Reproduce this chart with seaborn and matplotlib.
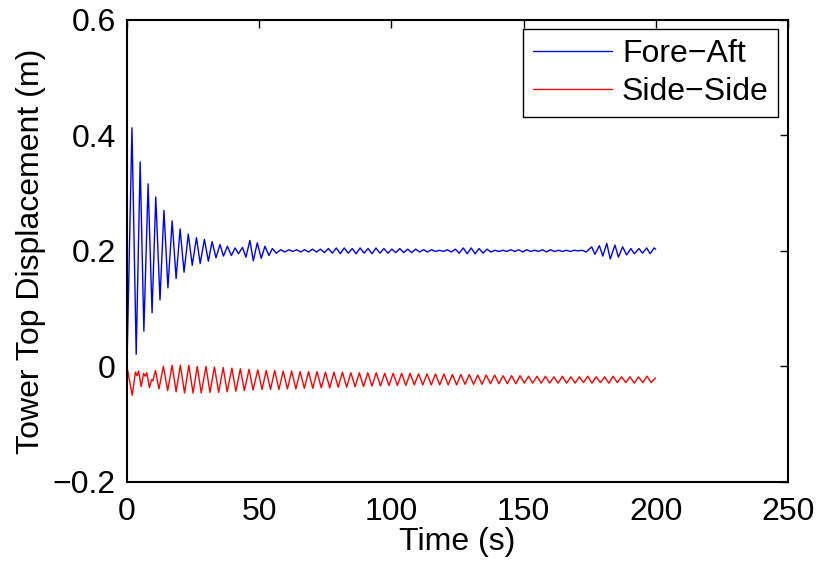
import numpy as np
import pandas as pd
import seaborn as sns
import matplotlib.pyplot as plt

# peak / trough values (time in s, displacement in m)
fa_time = [
    0.0, 1.9, 3.5, 5.0, 6.4, 8.0, 9.5, 10.9, 12.5, 14.0, 15.5, 17.1, 18.6, 20.1,
    21.6, 23.2, 24.7, 26.3, 27.7, 29.3, 30.8, 32.2, 33.7, 35.2, 36.5, 38.0, 39.5,
    40.9, 42.2, 43.7, 45.0, 46.5, 47.8, 49.3, 50.8, 52.2, 53.7, 55.0, 56.5,
    58.2, 59.7, 61.2, 62.7, 64.2, 65.7, 67.2, 68.7, 70.2, 71.7, 73.2, 74.7,
    76.2, 77.7, 79.2, 80.7, 82.2, 83.7, 85.2, 86.7, 88.2, 89.7, 91.2, 92.7,
    94.2, 95.7, 97.2, 98.7, 100.2, 101.7, 103.2, 104.7, 106.2, 107.7, 109.2,
    110.7, 112.2, 113.7, 115.2, 116.7, 118.2, 119.7, 121.2, 122.7, 124.2,
    125.7, 127.2, 128.7, 130.2, 131.7, 133.2, 134.7, 136.2, 137.7, 139.2,
    140.7, 142.2, 143.7, 145.2, 146.7, 148.2, 149.7, 151.2, 152.7, 154.2,
    155.7, 157.2, 158.7, 160.2, 161.7, 163.2, 164.7, 166.2, 167.7, 169.2,
    170.7, 172.2, 173.7, 175.8, 177.0, 178.7, 180.0, 181.5, 182.8, 184.6,
    185.9, 187.5, 189.0, 190.6, 191.9, 193.7, 195.0, 196.6, 197.9, 199.4, 200.0,
]
fa_disp = [
    0.000, 0.413, 0.021, 0.354, 0.061, 0.316, 0.093, 0.293, 0.115, 0.270, 0.136,
    0.252, 0.152, 0.238, 0.163, 0.229, 0.175, 0.223, 0.178, 0.220, 0.182, 0.216,
    0.188, 0.211, 0.191, 0.208, 0.192, 0.205, 0.195, 0.206, 0.189, 0.218, 0.183,
    0.214, 0.187, 0.208, 0.192, 0.204, 0.196,
    0.202, 0.198, 0.202, 0.199, 0.202, 0.198, 0.202, 0.198, 0.203, 0.198, 0.203,
    0.197, 0.204, 0.196, 0.205, 0.195, 0.205, 0.196, 0.204, 0.195, 0.205, 0.196,
    0.204, 0.195, 0.205, 0.196, 0.204, 0.196, 0.203, 0.197, 0.204, 0.197, 0.203,
    0.197, 0.203, 0.198, 0.202, 0.198, 0.202, 0.199, 0.201, 0.199, 0.202, 0.198,
    0.203, 0.196, 0.205, 0.195, 0.205, 0.195, 0.204, 0.196, 0.203, 0.198, 0.201,
    0.199, 0.201, 0.199, 0.202, 0.199, 0.202, 0.198, 0.202, 0.199, 0.201, 0.199,
    0.202, 0.198, 0.202, 0.199, 0.201, 0.199, 0.201, 0.199, 0.201, 0.200, 0.201,
    0.198, 0.207, 0.194, 0.209, 0.191, 0.213, 0.186, 0.210, 0.189, 0.207, 0.193,
    0.204, 0.195, 0.204, 0.196, 0.205, 0.195, 0.205, 0.203,
]

ss_time = [
    0.0, 2.0, 3.2, 3.8, 4.4, 5.4, 6.3, 6.9, 7.5, 8.5, 9.3, 9.8, 10.8, 12.1,
    13.8, 15.4, 17.1, 18.6, 20.2, 21.8, 23.4, 25.0, 26.6, 28.1, 29.9, 31.4,
    33.1, 34.7, 36.4, 37.9, 39.7, 41.2, 42.9, 44.4, 46.2, 47.7,
    49.5, 51.1, 52.7, 54.3, 55.9, 57.5, 59.1, 60.7, 62.3, 63.9, 65.5, 67.1,
    68.7, 70.3, 71.9, 73.5, 75.1, 76.7, 78.3, 79.9, 81.5, 83.1, 84.7, 86.3,
    87.9, 89.5, 91.1, 92.7, 94.3, 95.9, 97.5, 99.1, 100.7, 102.3, 103.9, 105.5,
    107.1, 108.7, 110.3, 111.9, 113.5, 115.1, 116.7, 118.3, 119.9, 121.5,
    123.1, 124.7, 126.3, 127.9, 129.5, 131.1, 132.7, 134.3, 135.9, 137.5,
    139.1, 140.7, 142.3, 143.9, 145.5, 147.1, 148.7, 150.3, 151.9, 153.5,
    155.1, 156.7, 158.3, 159.9, 161.5, 163.1, 164.7, 166.3, 167.9, 169.5,
    171.1, 172.7, 174.3, 175.9, 177.5, 179.1, 180.7, 182.3, 183.9, 185.5,
    187.1, 188.7, 190.3, 191.9, 193.5, 195.1, 196.7, 198.3, 199.9,
]
ss_disp = [
    0.000, -0.050, -0.010, -0.016, -0.008, -0.035, -0.012, -0.017, -0.011,
    -0.037, -0.023, -0.025, -0.007, -0.039, 0.000, -0.042, 0.002, -0.044,
    0.002, -0.046, 0.002, -0.046, 0.000, -0.046, 0.000, -0.045, -0.001,
    -0.045, -0.002, -0.044, -0.003, -0.043, -0.004, -0.042, -0.005, -0.041,
    -0.006, -0.040, -0.007, -0.040, -0.007, -0.040, -0.008, -0.039, -0.008,
    -0.039, -0.009, -0.038, -0.009, -0.038, -0.009, -0.037, -0.010, -0.037,
    -0.010, -0.036, -0.010, -0.036, -0.011, -0.035, -0.011, -0.035, -0.011,
    -0.034, -0.011, -0.034, -0.012, -0.033, -0.012, -0.033, -0.012, -0.033,
    -0.012, -0.032, -0.013, -0.032, -0.013, -0.032, -0.013, -0.032, -0.013,
    -0.032, -0.014, -0.032, -0.014, -0.031, -0.014, -0.031, -0.015, -0.031,
    -0.015, -0.030, -0.015, -0.030, -0.016, -0.030, -0.016, -0.030, -0.016,
    -0.029, -0.017, -0.029, -0.017, -0.029, -0.017, -0.029, -0.018, -0.029,
    -0.017, -0.029, -0.018, -0.029, -0.018, -0.028, -0.017, -0.029, -0.018,
    -0.028, -0.018, -0.029, -0.017, -0.028, -0.018, -0.028, -0.018, -0.029,
    -0.018, -0.028, -0.017, -0.028, -0.020,
]

series_names = ["Fore\u2212Aft", "Side\u2212Side"]
x_ticks = [0, 50, 100, 150, 200, 250]
y_ticks = [-0.2, 0, 0.2, 0.4, 0.6]
y_tick_labels = ["\u22120.2", "0", "0.2", "0.4", "0.6"]

df = pd.concat([
    pd.DataFrame({"Time": fa_time, "Disp": fa_disp, "Series": series_names[0]}),
    pd.DataFrame({"Time": ss_time, "Disp": ss_disp, "Series": series_names[1]}),
])

sns.set_theme(style="white")
plt.rcParams["font.family"] = ["Liberation Sans", "DejaVu Sans"]
plt.rcParams["text.color"] = "black"
plt.rcParams["axes.labelcolor"] = "black"
plt.rcParams["xtick.color"] = "black"
plt.rcParams["ytick.color"] = "black"
plt.rcParams["xtick.direction"] = "in"
plt.rcParams["ytick.direction"] = "in"
plt.rcParams["lines.solid_joinstyle"] = "round"

fig = plt.figure(figsize=(8.19, 5.65), dpi=100)
ax = fig.add_axes([0.155, 0.147, 0.807, 0.818])

sns.lineplot(
    data=df, x="Time", y="Disp", hue="Series",
    palette={series_names[0]: "#0000ff", series_names[1]: "#ff0000"},
    estimator=None, sort=False, lw=1.0, ax=ax,
)

ax.set_xlim(0, 250)
ax.set_ylim(-0.2, 0.6)
ax.set_xticks(x_ticks)
ax.set_yticks(y_ticks)
ax.set_yticklabels(y_tick_labels)
ax.tick_params(axis="both", labelsize=23, length=6, width=1,
               top=True, right=True)
ax.tick_params(axis="x", pad=11)
ax.tick_params(axis="y", pad=8)
for s in ax.spines.values():
    s.set_color("black")
    s.set_linewidth(1.5)

ax.set_xlabel("Time (s)", fontsize=23, labelpad=0)
ax.set_ylabel("Tower Top Displacement (m)", fontsize=23, labelpad=5)

sns.move_legend(
    ax, "upper right", title=None, fontsize=23, frameon=True, fancybox=False,
    edgecolor="black", framealpha=1, borderpad=0.3, handlelength=2.5,
    handletextpad=0.3, labelspacing=0.25, borderaxespad=0.3,
)
ax.get_legend().get_frame().set_linewidth(1.0)

fig.savefig("out.png", dpi=100)
